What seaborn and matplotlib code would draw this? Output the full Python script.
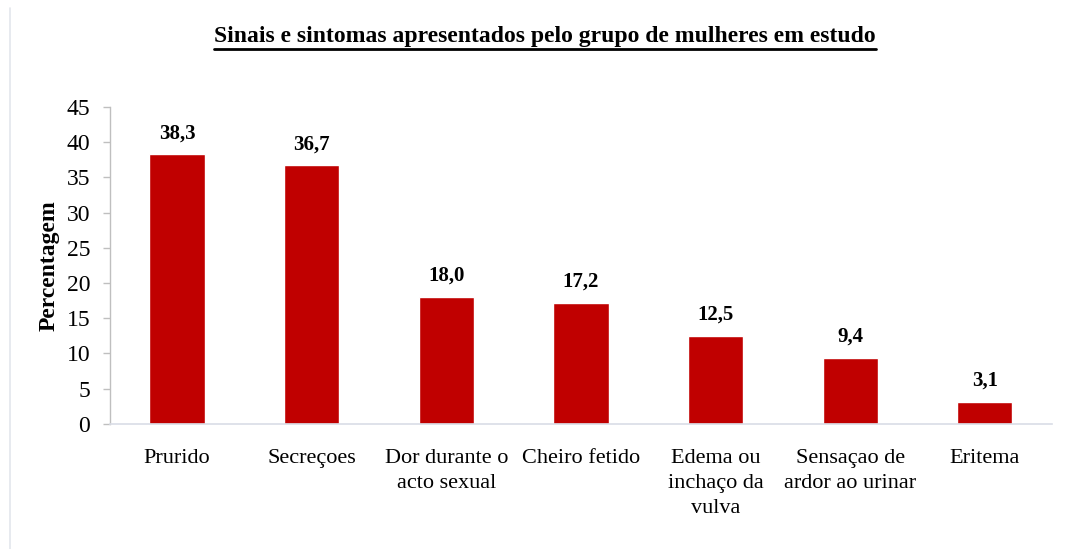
import matplotlib
matplotlib.use("Agg")
import matplotlib.pyplot as plt
import seaborn as sns
import pandas as pd
from matplotlib.lines import Line2D

# Chart data
sintomas = ["Prurido", "Secreçoes", "Dor durante o\nacto sexual", "Cheiro fetido",
            "Edema ou\ninchaço da\nvulva", "Sensaçao de\nardor ao urinar", "Eritema"]
percentagem = [38.3, 36.7, 18.0, 17.2, 12.5, 9.4, 3.1]
y_ticks = [0, 5, 10, 15, 20, 25, 30, 35, 40, 45]

df = pd.DataFrame({"sintoma": sintomas, "pct": percentagem})

sns.set_style("white")
plt.rcParams['font.family'] = 'Liberation Serif'
plt.rcParams['text.color'] = 'black'
plt.rcParams['axes.labelcolor'] = 'black'
plt.rcParams['xtick.color'] = 'black'
plt.rcParams['ytick.color'] = 'black'

fig = plt.figure(figsize=(10.65, 5.49), dpi=100)
ax = fig.add_axes([0.103, 0.228, 0.885, 0.577])

sns.barplot(data=df, x="sintoma", y="pct", color="#C00000", width=0.41,
            saturation=1, ax=ax)

ax.set_ylim(0, 45)
ax.set_yticks(y_ticks)
ax.set_xlim(-0.5, len(sintomas) - 0.5)
ax.tick_params(axis='y', labelsize=17, length=5, width=1, color="#BFBFBF",
               labelcolor="black", left=True, pad=9)
ax.tick_params(axis='x', labelsize=16, length=0, pad=18, labelcolor="black")
for lbl in ax.get_xticklabels():
    lbl.set_linespacing(1.45)
    lbl.set_verticalalignment('top')

ax.set_xlabel("")
ax.set_ylabel("Percentagem", fontsize=17, fontweight='bold', labelpad=5,
              color="black")

for side in ["top", "right"]:
    ax.spines[side].set_visible(False)
ax.spines["left"].set_color("#BFBFBF")
ax.spines["bottom"].set_color("#D9DDE6")
ax.spines["left"].set_linewidth(1)
ax.spines["bottom"].set_linewidth(1.2)

labels = [f"{v:.1f}".replace(".", ",") for v in percentagem]
ax.bar_label(ax.containers[0], labels=labels, padding=8, fontsize=15,
             fontweight='bold', color="black")

# underlined title
title = fig.text(0.512, 0.923, "Sinais e sintomas apresentados pelo grupo de mulheres em estudo",
                 ha='center', va='baseline', fontsize=17, fontweight='bold',
                 color="black")
fig.canvas.draw()
bb = title.get_window_extent().transformed(fig.transFigure.inverted())
fig.add_artist(Line2D([bb.x0, bb.x1], [0.911, 0.911], color="black", lw=2,
                      transform=fig.transFigure))

# faint frame line at left edge
fig.add_artist(Line2D([0.0095, 0.0095], [0.0, 0.985], color="#E3E6EC", lw=1.2,
                      transform=fig.transFigure))

fig.savefig("out.png", dpi=100)
